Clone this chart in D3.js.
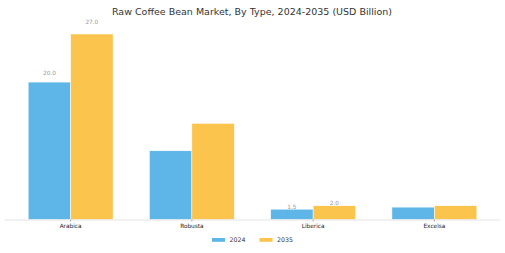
<!DOCTYPE html>
<html lang="en">
<head>
    <script src="https://d3js.org/d3.v7.min.js"></script>
    <style>
        body { margin: 0; background: #fff; }
        svg text { font-family: "DejaVu Sans", sans-serif; }
    </style>
</head>
<body>
<script>
    // data
    let categories = ['Arabica', 'Robusta', 'Liberica', 'Excelsa'];
    let years = ['2024', '2035'];
    let values2024 = [20.0, 10.0, 1.5, 1.8];
    let values2035 = [27.0, 14.0, 2.0, 2.0];
    let showLabel = [true, false, true, false];
    let colors = ['#5DB5E8', '#FBC44C'];

    var width = 505, height = 253;
    var baseline = 219.5;

    var svg = d3.select('body').append('svg')
        .attr('width', width)
        .attr('height', height);

    var x = d3.scaleBand()
        .domain(categories)
        .range([10, 495])
        .paddingInner(0.3)
        .paddingOuter(0.15);

    var xs = d3.scaleBand()
        .domain(years)
        .range([0, x.bandwidth()]);

    var y = d3.scaleLinear()
        .domain([0, 27])
        .range([baseline, 34]);

    svg.append('text')
        .attr('x', 252)
        .attr('y', 14.5)
        .attr('text-anchor', 'middle')
        .attr('fill', '#333')
        .style('font-size', '9.5px')
        .text('Raw Coffee Bean Market, By Type, 2024-2035 (USD Billion)');

    var rows = categories.map(function(c, i) {
        return { cat: c, vals: [values2024[i], values2035[i]], label: showLabel[i] };
    });

    var g = svg.selectAll('g.grp')
        .data(rows)
        .enter()
        .append('g')
        .attr('class', 'grp')
        .attr('transform', function(d) { return 'translate(' + x(d.cat) + ',0)'; });

    g.selectAll('rect')
        .data(function(d) { return d.vals.map(function(v, j) { return { v: v, yr: years[j], j: j }; }); })
        .enter()
        .append('rect')
        .attr('x', function(d) { return xs(d.yr); })
        .attr('y', function(d) { return y(d.v); })
        .attr('width', xs.bandwidth())
        .attr('height', function(d) { return baseline - y(d.v); })
        .attr('fill', function(d) { return colors[d.j]; })
        .attr('stroke', '#fff')
        .attr('stroke-width', 0.5);

    // value labels sit a bit above the bar, proportional to value
    g.filter(function(d) { return d.label; })
        .selectAll('text.val')
        .data(function(d) { return d.vals.map(function(v, j) { return { v: v, yr: years[j] }; }); })
        .enter()
        .append('text')
        .attr('class', 'val')
        .attr('x', function(d) { return xs(d.yr) + xs.bandwidth() / 2; })
        .attr('y', function(d) { return y(d.v * 1.055); })
        .attr('text-anchor', 'middle')
        .attr('fill', '#999')
        .style('font-size', '5.8px')
        .text(function(d) { return d.v.toFixed(1); });

    // x axis
    var axis = svg.append('g')
        .attr('transform', 'translate(0,' + baseline + ')')
        .call(d3.axisBottom(x).tickSize(2).tickPadding(2.5));
    axis.select('.domain').attr('stroke', '#e3e3e3').attr('d', 'M5,0.5H500');
    axis.selectAll('.tick line').attr('stroke', '#aaa');
    axis.selectAll('.tick text')
        .attr('fill', '#222')
        .style('font-size', '5.8px')
        .style('font-family', '"DejaVu Sans", sans-serif');

    // legend
    var legend = svg.append('g').attr('transform', 'translate(212,238)');
    var li = legend.selectAll('g')
        .data(years)
        .enter()
        .append('g')
        .attr('transform', function(d, i) { return 'translate(' + (i * 47.5) + ',0)'; });
    li.append('rect')
        .attr('width', 13)
        .attr('height', 3.8)
        .attr('fill', function(d, i) { return colors[i]; });
    li.append('text')
        .attr('x', 17.5)
        .attr('y', 4.2)
        .attr('fill', '#333')
        .style('font-size', '6.3px')
        .text(function(d) { return d; });
</script>
</body>
</html>
